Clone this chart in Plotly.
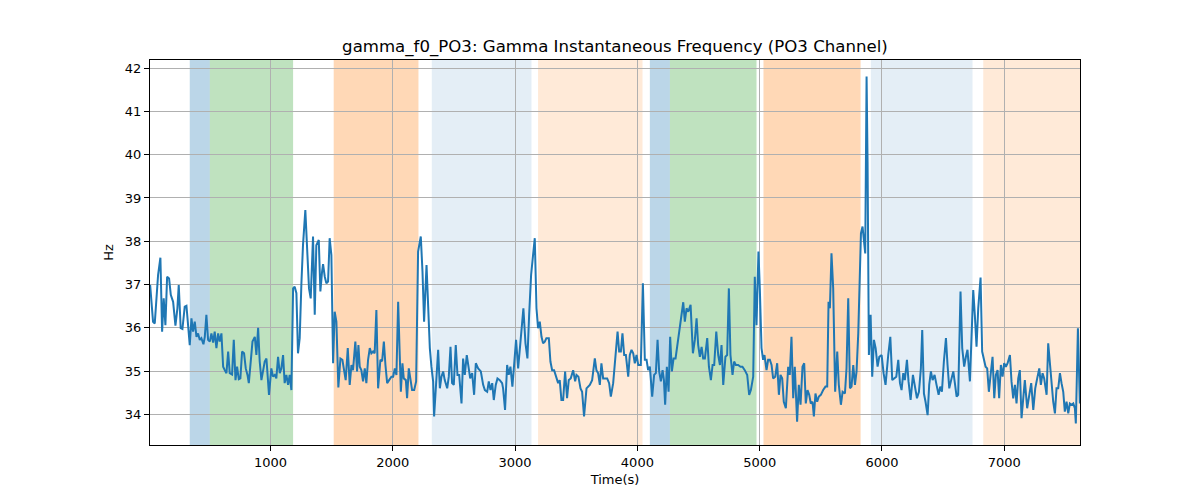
import plotly.graph_objects as go

# ── Datos ───────────────────────────────────────────────────────
TIME_S = [
    16, 40, 54, 67, 81, 100, 114, 127, 141, 155, 171, 185, 204, 223, 239, 250, 266, 280, 299, 313,
    326, 340, 354, 367, 381, 395, 408, 422, 435, 452, 463, 476, 490, 504, 517, 531, 544, 558, 572, 585,
    599, 613, 626, 640, 654, 667, 686, 700, 714, 727, 741, 754, 768, 784, 798, 812, 823, 839, 853, 872,
    885, 899, 912, 926, 940, 953,
    967, 988, 1007, 1021, 1035, 1048, 1062, 1076, 1089, 1103, 1116, 1130, 1144, 1157, 1171, 1185, 1198,
    1212, 1225, 1239, 1253, 1266, 1285, 1299, 1315, 1329, 1348, 1362, 1375, 1395, 1408, 1422, 1430, 1444,
    1457, 1471, 1484, 1498, 1512, 1525, 1539, 1555, 1572, 1588, 1602, 1615, 1632, 1648, 1662, 1675, 1694,
    1708, 1719, 1730, 1743, 1757, 1771, 1784, 1798, 1812, 1825, 1839, 1852, 1866, 1880,
    1899, 1913, 1927, 1940, 1954, 1970, 1989, 2003, 2017, 2030, 2044, 2057, 2066, 2079, 2090, 2107, 2117,
    2131, 2145, 2158, 2175, 2191, 2207, 2221, 2229, 2243, 2256, 2276, 2289, 2303, 2316, 2330, 2338, 2355,
    2371, 2385, 2398, 2412, 2425, 2445, 2458, 2472, 2485, 2499, 2515, 2529, 2543, 2562, 2575, 2589, 2605,
    2619, 2633, 2649, 2665, 2679, 2698, 2720, 2739, 2753, 2772, 2785, 2799, 2813, 2826,
    2842, 2856, 2875, 2894, 2902, 2918, 2935, 2948, 2962, 2978, 2992, 3008, 3025, 3038, 3052, 3068, 3085,
    3101, 3115, 3131, 3147, 3161, 3175, 3188, 3202, 3216, 3229, 3243, 3256, 3276, 3289, 3303, 3319, 3338,
    3352, 3365, 3379, 3393, 3409, 3425, 3439, 3455, 3475, 3491, 3502, 3518, 3535, 3548, 3564, 3584, 3597,
    3611, 3630, 3652, 3665, 3679, 3693, 3706, 3720, 3733, 3753, 3769,
    3783, 3802, 3821, 3838, 3851, 3865, 3878, 3892, 3906, 3925, 3938, 3952, 3966, 3979, 3993, 4007, 4028,
    4045, 4061, 4075, 4088, 4102, 4121, 4137, 4151, 4165, 4178, 4192, 4206, 4217, 4227, 4241, 4255, 4268,
    4282, 4296, 4312, 4328, 4347, 4361, 4375, 4388, 4402, 4416, 4435, 4454, 4470, 4484, 4497, 4511, 4525,
    4538, 4552, 4571, 4585, 4601, 4615, 4628, 4645, 4661, 4675, 4688, 4702,
    4720, 4734, 4748, 4761, 4778, 4791, 4805, 4824, 4843, 4859, 4878, 4898, 4914, 4928, 4947, 4960, 4974,
    4990, 5001, 5015, 5028, 5039, 5056, 5069, 5083, 5097, 5110, 5127, 5143, 5157, 5170, 5184, 5197, 5214,
    5233, 5246, 5260, 5274, 5287, 5306, 5320, 5334, 5350, 5364, 5377, 5391, 5405, 5418, 5432, 5443, 5456,
    5470, 5484, 5500, 5519, 5538, 5552, 5563, 5574, 5587, 5601, 5617, 5634, 5647,
    5664, 5678, 5697, 5710, 5724, 5738, 5751, 5765, 5779, 5792, 5806, 5819, 5828, 5841, 5855, 5863, 5874,
    5882, 5893, 5907, 5920, 5934, 5948, 5964, 5978, 5997, 6013, 6029, 6051, 6068, 6084, 6100, 6117, 6133,
    6147, 6160, 6174, 6187, 6204, 6217, 6234, 6253, 6269, 6286, 6302, 6318, 6329, 6343, 6356, 6373, 6386,
    6400, 6414, 6430, 6446, 6463, 6476, 6490, 6506, 6523, 6536, 6550, 6569, 6583, 6596,
    6610, 6623, 6642, 6656, 6672, 6686, 6699, 6719, 6732, 6746, 6759, 6773, 6787, 6806, 6819, 6833, 6847,
    6860, 6874, 6888, 6904, 6918, 6931, 6945, 6958, 6972, 6986, 6999, 7013, 7027, 7046, 7059, 7073, 7087,
    7100, 7114, 7127, 7141, 7155, 7168, 7187, 7204, 7220, 7237, 7253, 7269, 7286, 7299, 7313, 7326, 7346,
    7359, 7373, 7386, 7400, 7414, 7427, 7441, 7455, 7468, 7482, 7495, 7509, 7523, 7536, 7550, 7564, 7577,
    7585, 7602, 7618,
]

GAMMA_F0_HZ = [
    36.99, 36.14, 36.10, 36.76, 37.22, 37.62, 35.91, 36.68, 36.06, 37.18, 37.14, 36.76, 36.60, 36.05,
    36.45, 36.99, 35.99, 35.97, 36.49, 36.51, 36.14, 35.60, 36.22, 35.91, 36.14, 35.79, 35.87, 35.72,
    35.76, 35.62, 35.79, 36.30, 35.72, 35.68, 35.87, 35.66, 35.91, 35.53, 35.87, 35.68, 35.87, 35.10,
    35.02, 34.95, 35.45, 34.95, 34.92, 35.72, 34.79, 35.10, 34.81, 34.83, 35.45, 35.41, 35.06, 34.91,
    34.72, 35.29, 35.68, 35.79, 35.37, 36.00, 35.22, 34.79, 35.02, 35.22,
    35.29, 34.45, 35.06, 34.87, 34.91, 34.83, 35.33, 34.95, 35.06, 35.37, 34.72, 34.91, 34.68, 34.91,
    34.56, 36.91, 36.95, 36.80, 35.41, 35.76, 37.03, 37.91, 38.72, 37.99, 36.91, 36.68, 38.11, 36.30,
    37.91, 38.03, 36.84, 37.30, 37.47, 37.18, 37.03, 37.07, 38.07, 37.68, 35.18, 36.37, 36.14, 34.62,
    35.29, 35.26, 35.02, 34.79, 35.53, 34.68, 35.14, 35.02, 35.68, 34.99, 35.60, 35.10, 35.02, 34.76,
    35.06, 34.72, 35.26, 35.53, 35.41, 35.45, 35.41, 36.41, 34.60,
    35.26, 35.23, 35.68, 35.14, 34.72, 34.79, 34.87, 34.87, 35.06, 34.91, 36.60, 35.37, 34.52, 35.18,
    34.83, 34.79, 34.37, 35.06, 34.83, 34.56, 34.56, 34.76, 37.76, 37.99, 38.11, 37.30, 36.14, 37.45,
    36.30, 35.53, 35.10, 34.76, 33.95, 34.91, 35.49, 34.60, 34.87, 34.99, 34.79, 34.60, 34.87, 35.56,
    34.72, 34.68, 35.60, 34.91, 34.91, 34.25, 35.29, 34.91, 35.37, 35.10, 34.83, 34.95, 34.45, 35.18,
    35.06, 34.99, 34.68, 34.56, 34.52, 34.76, 34.56, 34.72, 34.33,
    34.68, 34.83, 34.79, 34.72, 34.60, 34.10, 35.14, 34.91, 35.10, 34.64, 35.14, 35.72, 35.06, 35.49,
    35.91, 36.45, 35.64, 35.29, 36.30, 37.22, 37.68, 38.07, 36.45, 35.99, 36.14, 35.79, 35.64, 35.68,
    35.76, 35.76, 35.22, 35.02, 35.02, 34.83, 34.72, 34.79, 34.33, 34.33, 34.99, 34.37, 34.79, 34.83,
    35.02, 34.76, 34.91, 34.87, 34.60, 34.52, 33.95, 34.60, 34.64, 34.68, 34.79, 35.29, 35.02, 34.95,
    34.68, 35.18, 34.83, 34.83, 34.83, 34.72,
    34.41, 34.72, 35.37, 35.91, 35.45, 35.45, 35.87, 35.37, 35.37, 34.87, 35.37, 35.49, 35.41, 35.18,
    35.37, 35.14, 35.14, 37.03, 35.26, 35.26, 35.02, 35.10, 34.41, 34.91, 34.95, 35.72, 34.99, 34.76,
    35.02, 34.79, 34.22, 35.10, 34.52, 35.79, 34.99, 35.29, 35.29, 35.60, 35.99, 36.33, 36.59, 36.14,
    36.45, 36.37, 36.53, 35.41, 35.72, 36.22, 35.60, 35.33, 35.56, 35.29, 35.29, 35.76, 35.10, 34.79,
    35.14, 35.14, 35.91, 35.37, 35.14, 35.60, 34.68,
    35.33, 35.37, 36.91, 35.37, 34.91, 35.22, 35.14, 35.14, 35.10, 35.10, 35.02, 34.91, 34.45, 34.56,
    34.87, 37.18, 36.06, 37.76, 36.91, 35.53, 35.26, 35.37, 35.02, 35.26, 35.26, 35.14, 34.83, 34.87,
    35.18, 34.45, 34.91, 34.83, 34.29, 34.14, 35.10, 34.91, 35.79, 34.37, 35.10, 33.83, 34.68, 34.22,
    35.10, 35.18, 34.25, 34.56, 34.45, 34.25, 34.29, 33.95, 34.48, 34.29, 34.41, 34.45, 34.56, 34.64,
    34.64, 36.60, 36.45, 37.72, 36.91, 34.52, 35.45, 34.68,
    34.22, 34.52, 34.48, 35.06, 36.68, 34.60, 34.64, 35.14, 34.68, 34.99, 35.87, 37.53, 38.18, 38.34,
    37.99, 37.72, 41.81, 39.84, 35.37, 36.30, 34.87, 35.72, 35.53, 35.10, 35.33, 35.37, 34.95, 34.68,
    35.37, 35.79, 34.79, 34.83, 34.87, 35.26, 34.72, 34.56, 34.95, 34.79, 35.26, 34.76, 34.33, 34.91,
    34.60, 34.37, 34.52, 35.06, 35.95, 34.48, 34.29, 33.98, 34.68, 34.99, 34.79, 34.91, 34.68, 34.45,
    34.64, 34.52, 35.22, 35.76, 35.14, 34.60, 34.83, 34.99, 34.72,
    34.41, 34.45, 36.84, 35.53, 35.10, 35.33, 35.49, 34.76, 35.68, 36.87, 36.30, 35.56, 36.45, 37.16,
    35.45, 35.29, 35.10, 35.06, 34.52, 34.91, 35.33, 34.37, 34.91, 35.02, 34.37, 35.14, 34.87, 35.18,
    35.10, 35.18, 35.37, 34.76, 34.37, 34.68, 34.25, 34.83, 35.02, 33.91, 34.37, 34.79, 34.14, 34.45,
    34.72, 34.10, 34.60, 34.83, 35.06, 34.68, 34.95, 34.83, 34.45, 35.64, 35.10, 34.60, 34.29, 34.02,
    34.60, 34.60, 34.95, 34.72, 34.52, 34.06, 34.29, 34.02, 34.25, 34.22, 34.25, 34.14, 33.79, 35.99,
    34.25,
]

# Intervalos sombreados (inicio, fin, color)
SPAN_START = [340, 504, 1517, 2319, 3188, 4102, 4266, 5031, 5909, 6828]
SPAN_END = [504, 1185, 2210, 3134, 4042, 4266, 4974, 5825, 6740, 7700]
SPAN_COLOR = [
    "rgba(31,119,180,0.3)", "rgba(44,160,44,0.3)", "rgba(255,127,14,0.3)",
    "rgba(31,119,180,0.12)", "rgba(255,127,14,0.16)", "rgba(31,119,180,0.3)",
    "rgba(44,160,44,0.3)", "rgba(255,127,14,0.3)", "rgba(31,119,180,0.12)",
    "rgba(255,127,14,0.16)",
]

FONT = "DejaVu Sans"

fig = go.Figure()
fig.add_trace(
    go.Scatter(
        x=TIME_S,
        y=GAMMA_F0_HZ,
        mode="lines",
        line=dict(color="#1f77b4", width=2),
        showlegend=False,
    )
)

for x0, x1, col in zip(SPAN_START, SPAN_END, SPAN_COLOR):
    fig.add_vrect(x0=x0, x1=x1, fillcolor=col, line_width=0, layer="below")

_axis = dict(
    showgrid=True,
    gridcolor="#b0b0b0",
    gridwidth=1,
    showline=True,
    linecolor="black",
    linewidth=1,
    mirror=True,
    ticks="outside",
    ticklen=5,
    tickcolor="black",
    zeroline=False,
    tickfont=dict(family=FONT, size=13, color="black"),
)

# la página añade 8 px de margen al cuerpo: se compensa aquí
fig.update_layout(
    width=1200,
    height=500,
    paper_bgcolor="white",
    plot_bgcolor="white",
    margin=dict(l=142, r=128, t=52, b=63),
    font=dict(family=FONT, color="black"),
    title=dict(
        text="gamma_f0_PO3: Gamma Instantaneous Frequency (PO3 Channel)",
        font=dict(family=FONT, size=16.6, color="black"),
        x=0.5058,
        xanchor="center",
        y=0.924,
        yanchor="middle",
    ),
    xaxis=dict(
        range=[15, 7619],
        tickvals=[1000, 2000, 3000, 4000, 5000, 6000, 7000],
        title=dict(text="Time(s)", font=dict(family=FONT, size=13), standoff=6),
        **_axis,
    ),
    yaxis=dict(
        range=[33.29, 42.19],
        tickvals=[34, 35, 36, 37, 38, 39, 40, 41, 42],
        title=dict(text="Hz", font=dict(family=FONT, size=13), standoff=8),
        **_axis,
    ),
)

fig.write_html("out.html")
